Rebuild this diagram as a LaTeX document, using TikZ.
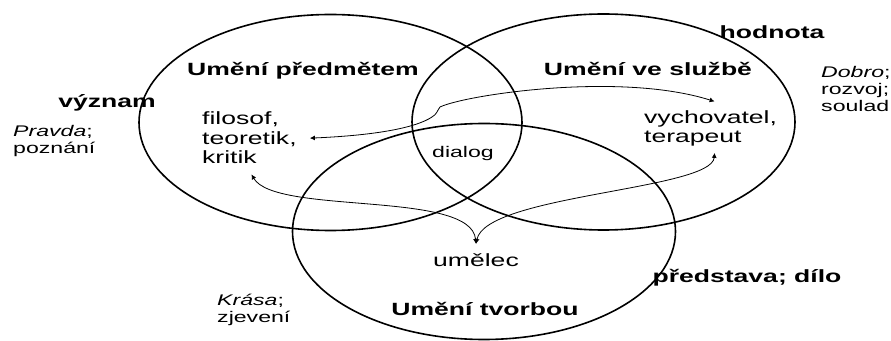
\documentclass[tikz,border=0pt]{standalone}
\usepackage{fontspec}
\setmainfont{Liberation Sans}[FakeStretch=1.5]
\usetikzlibrary{arrows.meta}

\begin{document}
\begin{tikzpicture}[
    x=1pt, y=1pt,
    circ/.style={line width=1.6pt},
    head/.style={font=\fontsize{17.7}{19.5}\selectfont\bfseries,
                inner sep=0pt, anchor=base},
    role/.style={font=\fontsize{17.7}{19.5}\selectfont,
                inner sep=0pt, align=left, anchor=base west},
    note/.style={font=\fontsize{15.4}{17}\selectfont,
                inner sep=0pt, align=left, anchor=base west},
    arr/.style={{Latex[length=5pt,width=5pt]}-{Latex[length=5pt,width=5pt]},
                line width=0.8pt}
]
    \useasboundingbox (0,0) rectangle (891,340);

    % the three spheres
    \draw[circ] (330.5,217.5) ellipse [x radius=191.5, y radius=108];
    \draw[circ] (603.5,218)   ellipse [x radius=191.5, y radius=108];
    \draw[circ] (484,108.5)   ellipse [x radius=191.5, y radius=108];

    % titles
    \node[head] (predmet) at (303,264) {Umění předmětem};
    \node[head] (sluzba)  at (648,264) {Umění ve službě};
    \node[head] (tvorba)  at (485,25)  {Umění tvorbou};

    \node[head] (vyznam)  at (107,232) {význam};
    \node[head] (hodnota) at (772,301) {hodnota};
    \node[head] (dilo)    at (747,57)  {představa; dílo};

    % values (base = last line)
    \node[note] (pravda) at (13,186)  {\textit{Pravda};\\ poznání};
    \node[note] (dobro)  at (821,228) {\textit{Dobro};\\ rozvoj;\\ soulad};
    \node[note] (krasa)  at (217,17)  {\textit{Krása};\\ zjevení};

    % roles
    \node[role] (filo) at (202,176) {filosof,\\ teoretik,\\ kritik};
    \node[role] (vych) at (644,197) {vychovatel,\\ terapeut};
    \node[note, anchor=base] (dialog) at (463,182) {dialog};
    \node[role, anchor=base] (umel)   at (476,73)  {umělec};

    \coordinate (kink) at (436,228);

    \draw[arr] ([xshift=13pt]filo.east) .. controls +(70,3) and +(-15,-10) .. ([xshift=-4pt,yshift=-5pt]kink)
               .. controls +(5,3) and +(-3,-4) .. ([xshift=4pt,yshift=5pt]kink)
               .. controls +(25,12) and +(-95,30) .. ([xshift=4pt,yshift=9pt]vych.north);
    \draw[arr] ([xshift=2pt,yshift=-10pt]filo.south) .. controls +(24,-41) and +(-5,54) .. ([yshift=10pt]umel.north);
    \draw[arr] ([xshift=4pt,yshift=-6pt]vych.south) .. controls +(-3,-37) and +(10,49) .. ([yshift=10pt]umel.north);
\end{tikzpicture}
\end{document}
